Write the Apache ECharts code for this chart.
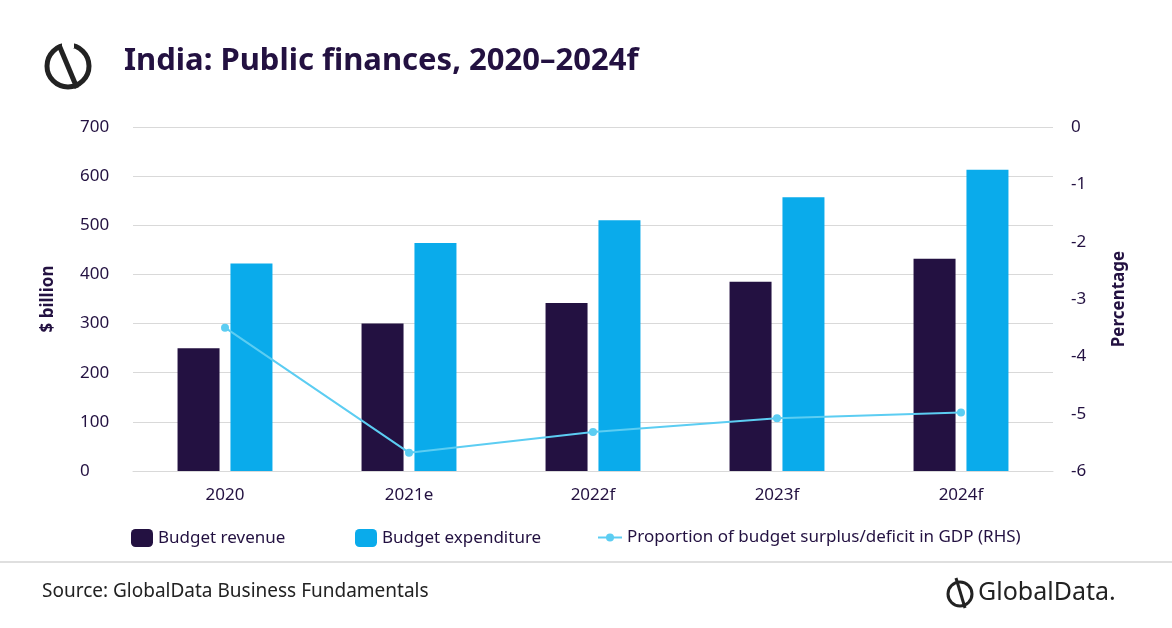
<!DOCTYPE html>
<html><head><meta charset="utf-8">
<script src="https://cdn.jsdelivr.net/npm/echarts@6/dist/echarts.min.js"></script>
<style>html,body{margin:0;padding:0;background:#fff}#c{width:1172px;height:628px}</style>
</head><body><div id="c"></div>
<script>
const categories = ['2020', '2021e', '2022f', '2023f', '2024f']
const revenue = [250, 300, 342, 385, 432]
const expenditure = [422, 464, 510, 557, 613]
const deficitPct = [-3.5, -5.68, -5.32, -5.08, -4.98]
const leftTicks = [0, 700, 100]
const rightTicks = [-6, 0, 1]

const FONT = 'Noto Sans'
const DARK = '#231141'
const txt = { color: '#231141', fontFamily: FONT, fontSize: 17 }

const chart = echarts.init(document.getElementById('c'), null, { renderer: 'canvas' })
chart.setOption({
  animation: false,
  textStyle: { fontFamily: FONT },
  grid: { left: 133, right: 119, top: 127, bottom: 157 },
  legend: [
    { left: 126, top: 524, itemWidth: 22, itemHeight: 18, textStyle: txt, data: ['Budget revenue'] },
    { left: 350, top: 524, itemWidth: 22, itemHeight: 18, textStyle: txt, data: ['Budget expenditure'] },
    { left: 592, top: 524, itemWidth: 24, itemHeight: 10, textStyle: txt,
      data: ['Proportion of budget surplus/deficit in GDP (RHS)'] }
  ],
  xAxis: {
    type: 'category', data: categories,
    axisLine: { lineStyle: { color: '#d9d9d9' } }, axisTick: { show: false },
    axisLabel: { ...txt, margin: 16 }
  },
  yAxis: [
    { type: 'value', min: leftTicks[0], max: leftTicks[1], interval: leftTicks[2],
      name: '$ billion', nameLocation: 'middle', nameGap: 76, nameRotate: 90,
      nameTextStyle: { ...txt, fontWeight: 'bold' },
      axisLabel: { ...txt, margin: 53, align: 'left' },
      splitLine: { lineStyle: { color: '#d9d9d9' } } },
    { type: 'value', min: rightTicks[0], max: rightTicks[1], interval: rightTicks[2],
      name: 'Percentage', nameLocation: 'middle', nameGap: 58, nameRotate: 90,
      nameTextStyle: { ...txt, fontWeight: 'bold' },
      axisLabel: { ...txt, margin: 18, align: 'left' },
      splitLine: { show: false } }
  ],
  series: [
    { name: 'Budget revenue', type: 'bar', data: revenue, barWidth: 42, barGap: '26%',
      itemStyle: { color: DARK } },
    { name: 'Budget expenditure', type: 'bar', data: expenditure, barWidth: 42,
      itemStyle: { color: '#0AABEB' } },
    { name: 'Proportion of budget surplus/deficit in GDP (RHS)', type: 'line', yAxisIndex: 1,
      data: deficitPct, symbol: 'circle', symbolSize: 8,
      lineStyle: { color: '#5CCDF2', width: 2 }, itemStyle: { color: '#5CCDF2' } }
  ],
  graphic: [
    { type: 'text', left: 124, top: 46, style: { text: 'India: Public finances, 2020–2024f',
      fill: DARK, font: 'bold 31px "Noto Sans"' } },
    { type: 'circle', shape: { cx: 68, cy: 66, r: 21 }, style: { fill: 'none', stroke: '#222', lineWidth: 5 } },
    { type: 'rect', shape: { x: 62, y: 38, width: 12, height: 10 }, style: { fill: '#fff' } },
    { type: 'line', shape: { x1: 59, y1: 45, x2: 77, y2: 88 }, style: { stroke: '#222', lineWidth: 5 } },
    { type: 'line', shape: { x1: 0, y1: 562, x2: 1172, y2: 562 }, style: { stroke: '#bfbfbf', lineWidth: 1 } },
    { type: 'text', left: 42, top: 582, style: { text: 'Source: GlobalData Business Fundamentals',
      fill: '#222', font: '19px "Noto Sans"' } },
    { type: 'circle', shape: { cx: 960, cy: 594, r: 12 }, style: { fill: 'none', stroke: '#222', lineWidth: 3 } },
    { type: 'line', shape: { x1: 956, y1: 578, x2: 965, y2: 608 }, style: { stroke: '#222', lineWidth: 3 } },
    { type: 'text', left: 978, top: 580, style: { text: 'GlobalData.', fill: '#222', font: '25px "Noto Sans"' } }
  ]
})
</script></body></html>
